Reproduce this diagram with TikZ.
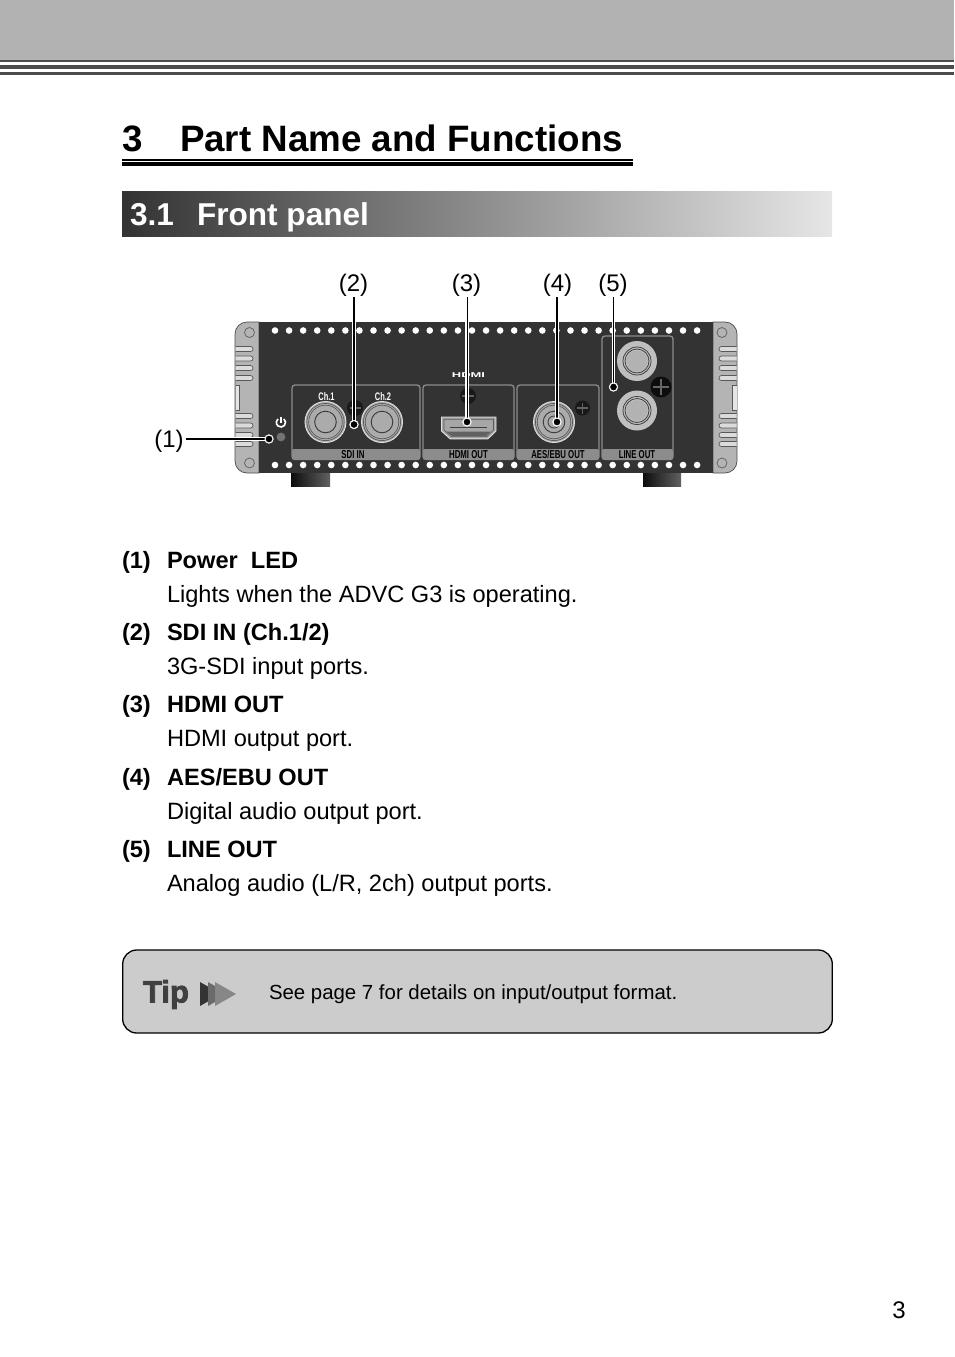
\documentclass[tikz,border=0pt]{standalone}
\usepackage{fontspec}
\setmainfont{Liberation Sans}
\newfontfamily\tipfont[FakeBold=2.5]{Liberation Sans Bold}
\usetikzlibrary{calc}
\definecolor{panel}{HTML}{333333}
\definecolor{eargray}{HTML}{B4B4B4}
\definecolor{boxgray}{HTML}{8C8C8C}
\definecolor{secdark}{HTML}{333333}
\definecolor{seclight}{HTML}{E6E6E6}
\tikzset{
  px/.style={inner sep=0pt,outer sep=0pt},
  titlet/.style={px,anchor=base west,font=\fontsize{36.75}{37}\selectfont\bfseries},
  sect/.style={px,anchor=base west,text=white,font=\fontsize{31.6}{33}\selectfont\bfseries},
  itemb/.style={px,anchor=base west,font=\fontsize{23.6}{25}\selectfont\bfseries},
  itemt/.style={px,anchor=base west,font=\fontsize{23.6}{25}\selectfont},
  callout/.style={px,anchor=base,font=\fontsize{24}{25}\selectfont},
  leaderhalo/.style={draw=white,line width=3.4pt},
  leader/.style={draw=black,line width=2.2pt},
  leaderthin/.style={draw=black,line width=1pt},
  tipdot/.style={circle,fill=black,draw=white,line width=1pt,minimum size=8pt,px},
  portbox/.style={draw=boxgray,line width=1.3pt,rounded corners=3pt},
  striptext/.style={px,font=\fontsize{11.5}{12}\selectfont\bfseries,xscale=0.68,text=black},
  chtext/.style={px,font=\fontsize{11}{12}\selectfont\bfseries,xscale=0.68,text=white},
  screw/.style={circle,fill=black!90,minimum size=16pt,px},
  crossline/.style={draw=black!62,line width=1.6pt},
  earline/.style={black!65,line width=.7pt},
  footshade/.style={left color=black!95,right color=black!62},
}
\newcommand{\bnc}[2]{%
  \fill[black!33] (#1,#2) circle (20.5pt);
  \draw[black!12,line width=.9pt] (#1,#2) circle (20.5pt);
  \draw[black!68,line width=.6pt] (#1,#2) circle (18.6pt);
  \draw[black!68,line width=.6pt] (#1,#2) circle (16.8pt);
  \draw[black!78,line width=.9pt] (#1,#2) circle (10.8pt);
}
\newcommand{\rca}[2]{%
  \fill[black!25] (#1,#2) circle (20pt);
  \draw[black!75,line width=.8pt] (#1,#2) circle (14pt);
  \draw[black!75,line width=.8pt] (#1,#2) circle (12pt);
  \fill[black!30] (#1,#2) circle (10.5pt);
}
\newcommand{\crossat}[3]{%
  \draw[crossline] (#1-#3,#2) -- (#1+#3,#2) (#1,#2-#3) -- (#1,#2+#3);
}
\begin{document}
\begin{tikzpicture}[x=1pt,y=-1pt]
\useasboundingbox (0,0) rectangle (954,1357);
% header
\fill[black!30] (0,0) rectangle (954,60);
\fill[black!70] (0,60) rectangle (954,62);
\fill[black!70] (0,65) rectangle (954,69.3);
\fill[black!70] (0,72) rectangle (954,75);
% title
\node[titlet] (t3) at (122,151) {3};
\node[titlet] (tt) at (180,151) {Part Name and Functions};
\fill (122,159) rectangle (633,160.5);
\fill (122,162) rectangle (633,166);
% section bar
\shade[left color=secdark,right color=seclight] (122,191) rectangle (832,236);
\node[sect] (s3) at (130,225) {3.1};
\node[sect] (s4) at (197,225) {Front panel};
% feet
\shade[footshade] (291,472) rectangle (330,486);
\shade[footshade] (643,472) rectangle (681,486);
% ears
\draw[fill=eargray,draw=black!70,line width=.7pt] (259,322) -- (247,322) to[out=180,in=90] (235,334) -- (235,461) to[out=-90,in=180] (247,473) -- (259,473) -- cycle;
\draw[fill=eargray,draw=black!70,line width=.7pt] (713,322) -- (725,322) to[out=0,in=90] (737,334) -- (737,461) to[out=-90,in=0] (725,473) -- (713,473) -- cycle;
\foreach \yy in {349,358.5,368,378,416,425.5,435,444}{
  \draw[earline,fill=black!14] (235.5,\yy-2.5) -- (250.5,\yy-2.5) arc (90:-90:2.5pt) -- (235.5,\yy+2.5);
  \draw[earline,fill=black!14] (736.5,\yy-2.5) -- (721.5,\yy-2.5) arc (90:270:2.5pt) -- (736.5,\yy+2.5);
}
\draw[earline,fill=black!10] (235.5,385) -- (239.5,385) -- (239.5,410) -- (235.5,410);
\draw[earline,fill=black!10] (736.5,385) -- (732.5,385) -- (732.5,410) -- (736.5,410);
\draw[black!60,line width=.8pt] (249.5,332.5) circle (5pt) (249.5,463) circle (5pt);
\draw[black!60,line width=.8pt] (722,332.5) circle (5pt) (722,463) circle (5pt);
% panel
\fill[panel] (259,322) rectangle (713,473);
\foreach \i in {0,...,30}{
  \fill[white] ({275+14.07*\i},330.5) circle (3.3pt);
  \fill[white] ({275+14.07*\i},465) circle (3.3pt);
}
% port boxes
\foreach \xa/\xb/\ya in {292/420/385,423/514/385,517/599/385,602/673/336}{
  \draw[portbox] (\xa,\ya) rectangle (\xb,459.5);
  \fill[boxgray,rounded corners=2pt] (\xa,449) rectangle (\xb,459.8);
}
\node[striptext] (l1) at (353,454.5) {SDI IN};
\node[striptext] (l2) at (468.5,454.5) {HDMI OUT};
\node[striptext] (l3) at (558,454.5) {AES/EBU OUT};
\node[striptext] (l4) at (637,454.5) {LINE OUT};
\node[chtext] (c1) at (326.5,397) {Ch.1};
\node[chtext] (c2) at (383,397) {Ch.2};
\node[px,text=white,font=\fontsize{7}{7}\selectfont\bfseries,xscale=1.85] (hd) at (468.5,375) {HDMI};
% screws
\node[screw] (sc1) at (355,408) {}; \crossat{355}{408}{5.5}
\node[screw] (sc2) at (468,396) {}; \crossat{468}{396}{6}
\node[screw,minimum size=15pt] (sc3) at (582.5,408) {}; \crossat{582.5}{408}{5.5}
\node[screw,minimum size=21pt,fill=black!95] (sc4) at (661,387) {};
\draw[black!60,line width=2pt] (653,387) -- (669,387) (661,379) -- (661,395);
% connectors
\bnc{325.5}{422}
\bnc{382}{422}
\bnc{554}{422}
\draw[black!78,line width=.8pt] (554,422) circle (6pt);
\rca{637}{361}
\rca{637}{410.5}
\draw[fill=black!35,draw=black!12,line width=.9pt] (441.5,417) -- (496,417) -- (496,431) -- (488,438.8) -- (450,438.8) -- (441.5,431) -- cycle;
\draw[draw=black!65,line width=.6pt] (444,419.2) -- (493.5,419.2) -- (493.5,430) -- (486.8,436.6) -- (451.2,436.6) -- (444,430) -- cycle;
\fill[black!62] (446,431.5) -- (491,431.5) -- (486,436) -- (452,436) -- cycle;
\fill[black!75] (450,426.6) rectangle (487,428.4);
% power symbol and LED
\draw[white,line width=1.6pt] (283.9,418.9) arc (50:-230:4.6pt);
\draw[white,line width=1.6pt] (281,416.5) -- (281,422.5);
\fill[black!55] (281,437) circle (4.4pt);
% callouts
\node[callout] (n1) at (169,447) {(1)};
\node[callout] (n2) at (353.5,291) {(2)};
\node[callout] (n3) at (466.5,291) {(3)};
\node[callout] (n4) at (557.5,291) {(4)};
\node[callout] (n5) at (613,291) {(5)};
\node[tipdot] (d1) at (269,439) {};
\node[tipdot] (d2) at (354,424.5) {};
\node[tipdot] (d3) at (467,422) {};
\node[tipdot] (d4) at (557,422) {};
\node[tipdot] (d5) at (613.5,387) {};
\coordinate (a1) at (186,439);
\coordinate (a2) at (354,297);
\coordinate (a3) at (467,297);
\coordinate (a4) at (557,297);
\coordinate (a5) at (613.5,297);
\draw[leaderhalo] (a1) -- (d1);
\draw[leaderhalo] (a2) -- (d2);
\draw[leaderhalo] (a3) -- (d3);
\draw[leaderhalo] (a4) -- (d4);
\draw[leaderhalo] (a5) -- (d5);
\draw[leader] (a1) -- (d1);
\draw[leader] (a2) -- (d2);
\draw[leaderthin] (a3) -- (d3);
\draw[leader] (a4) -- (d4);
\draw[leaderthin] (a5) -- (d5);
\node[tipdot] at (d1) {};
\node[tipdot] at (d2) {};
\node[tipdot] at (d3) {};
\node[tipdot] at (d4) {};
\node[tipdot] at (d5) {};
% list
\node[itemb] (i1) at (122,568.5) {(1)};
\node[itemb] (i1b) at (167,568.5) {Power\ \ LED};
\node[itemt] (i1t) at (167,602.5) {Lights when the ADVC G3 is operating.};
\node[itemb] (i2) at (122,640.5) {(2)};
\node[itemb] (i2b) at (167,640.5) {SDI IN (Ch.1/2)};
\node[itemt] (i2t) at (167,674.5) {3G-SDI input ports.};
\node[itemb] (i3) at (122,712.5) {(3)};
\node[itemb] (i3b) at (167,712.5) {HDMI OUT};
\node[itemt] (i3t) at (167,746.5) {HDMI output port.};
\node[itemb] (i4) at (122,785.5) {(4)};
\node[itemb] (i4b) at (167,785.5) {AES/EBU OUT};
\node[itemt] (i4t) at (167,819.5) {Digital audio output port.};
\node[itemb] (i5) at (122,857.5) {(5)};
\node[itemb] (i5b) at (167,857.5) {LINE OUT};
\node[itemt] (i5t) at (167,891.5) {Analog audio (L/R, 2ch) output ports.};
% tip box
\draw[fill=black!20,draw=black,line width=1.3pt,rounded corners=14pt] (122.7,950) rectangle (832.3,1033);
\node[px,anchor=base west,text=black!75] (tip) at (143,1002.5) {\fontsize{31}{31}\tipfont Tip};
\fill[black!80] (200,982) -- (200,1006) -- (221,994) -- cycle;
\fill[black!58] (208,982) -- (208,1006) -- (229,994) -- cycle;
\fill[black!47] (215,982) -- (215,1006) -- (236,994) -- cycle;
\node[px,anchor=base west,font=\fontsize{20.4}{23}\selectfont] (tiptxt) at (269,999) {See page 7 for details on input/output format.};
% page number
\node[px,anchor=base,font=\fontsize{24}{25}\selectfont] (pg) at (899,1318.5) {3};
\end{tikzpicture}
\end{document}
